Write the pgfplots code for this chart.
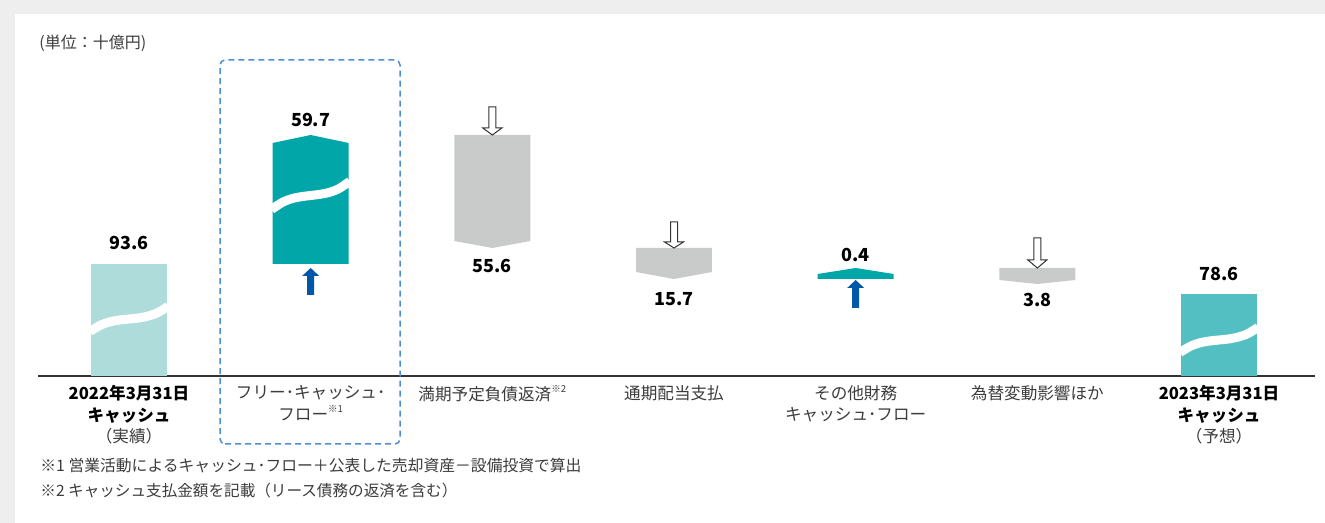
\documentclass[border=0pt]{standalone}
\usepackage{fontspec}
\setmainfont{Noto Sans CJK JP}
\usepackage{pgfplots}
\pgfplotsset{compat=1.18}
\usetikzlibrary{backgrounds}
\definecolor{bggray}{HTML}{EEEEEE}
\definecolor{cbarA}{HTML}{ADDCDB}
\definecolor{cteal}{HTML}{00A6A8}
\definecolor{cbarB}{HTML}{53BFC3}
\definecolor{cgrey}{HTML}{C9CACA}
\definecolor{cblue}{HTML}{0057A8}
\definecolor{cdash}{HTML}{4C8FD6}
\definecolor{labgray}{HTML}{3C3C3C}
\definecolor{axisgray}{HTML}{333333}
\newcommand{\notemark}[1]{\raisebox{0.45em}{\fontsize{4.8}{5}\selectfont #1}}
\begin{document}
\begin{tikzpicture}
\begin{axis}[
  scale only axis, width=638.5pt, height=181pt,
  xmin=-0.5009, xmax=6.5283, ymin=0, ymax=362,
  axis x line=bottom, axis y line=none,
  axis line style={-, draw=axisgray, line width=0.7pt},
  xtick={0,1,2,3,4,5,6}, major tick length=0pt,
  xticklabels={
    {\textcolor{black}{\textbf{2022年3月31日}}\\\textcolor{black}{\textbf{キャッシュ}}\\（実績）},
    {フリー･キャッシュ･\\フロー\notemark{※1}},
    {満期予定負債返済\notemark{※2}},
    {通期配当支払},
    {その他財務\\キャッシュ･フロー},
    {為替変動影響ほか},
    {\textcolor{black}{\textbf{2023年3月31日}}\\\textcolor{black}{\textbf{キャッシュ}}\\（予想）}
  },
  xticklabel style={align=center, font=\fontsize{8.3}{10.75}\selectfont, text=labgray, anchor=north, yshift=-1.2pt},
  ytick=\empty,
  clip=false,
]
% background extents
\coordinate (bgA) at (axis cs:-0.7101,-147);
\coordinate (bgB) at (axis cs:6.5834,376);
\coordinate (wA) at (axis cs:-0.6275,-147);
\coordinate (wB) at (axis cs:6.5834,362);

% dashed highlight box
\addplot[draw=cdash, line width=0.75pt, dash pattern=on 3pt off 2pt, rounded corners=2.5pt] coordinates {(0.501,-68) (1.4917,-68) (1.4917,316) (0.501,316)} -- cycle;

% bars (display heights, axis is broken)
\addplot[fill=cbarA, draw=none] coordinates {(-0.209,0) (0.209,0) (0.209,112) (-0.209,112)} -- cycle;
\addplot[fill=cteal, draw=none] coordinates {(0.791,112) (1.209,112) (1.209,233) (1,241) (0.791,233)} -- cycle;
\addplot[fill=cgrey, draw=none] coordinates {(1.791,241) (2.209,241) (2.209,135) (2,128) (1.791,135)} -- cycle;
\addplot[fill=cgrey, draw=none] coordinates {(2.791,128) (3.209,128) (3.209,104) (3,97) (2.791,104)} -- cycle;
\addplot[fill=cteal, draw=none] coordinates {(3.791,97) (4.209,97) (4.209,102) (4,108) (3.791,102)} -- cycle;
\addplot[fill=cgrey, draw=none] coordinates {(4.791,108) (5.209,108) (5.209,96) (5,92) (4.791,96)} -- cycle;
\addplot[fill=cbarB, draw=none] coordinates {(5.791,0) (6.209,0) (6.209,82) (5.791,82)} -- cycle;

% wave breaks
\addplot[white, line width=4.5pt, smooth] coordinates {(-0.215,44.6) (-0.157,50.8) (-0.1045,54.2) (-0.052,56.0) (0,57) (0.052,58.0) (0.1045,59.9) (0.157,63.2) (0.215,69.6)};
\addplot[white, line width=4.5pt, smooth] coordinates {(0.785,166.6) (0.843,173.5) (0.8955,177.3) (0.948,179.3) (1,180.5) (1.052,181.7) (1.1045,183.7) (1.157,187.5) (1.215,194.6)};
\addplot[white, line width=4.5pt, smooth] coordinates {(5.785,23.6) (5.843,29.8) (5.8955,33.2) (5.948,35.0) (6,36) (6.052,37.0) (6.1045,38.9) (6.157,42.2) (6.215,48.6)};

% hollow (outflow) arrows
\addplot[fill=white, draw=axisgray, line width=0.5pt] coordinates {(1.9807,269) (2.0193,269) (2.0193,248) (2.0523,248) (2,241) (1.9477,248) (1.9807,248)} -- cycle;
\addplot[fill=white, draw=axisgray, line width=0.5pt] coordinates {(2.9807,154) (3.0193,154) (3.0193,134) (3.0523,134) (3,128) (2.9477,134) (2.9807,134)} -- cycle;
\addplot[fill=white, draw=axisgray, line width=0.5pt] coordinates {(4.9807,138) (5.0193,138) (5.0193,116) (5.0523,116) (5,108) (4.9477,116) (4.9807,116)} -- cycle;

% blue (inflow) arrows
\addplot[fill=cblue, draw=none] coordinates {(0.9807,81) (1.0193,81) (1.0193,100) (1.0468,100) (1,108) (0.9532,100) (0.9807,100)} -- cycle;
\addplot[fill=cblue, draw=none] coordinates {(3.9807,68) (4.0193,68) (4.0193,88) (4.0468,88) (4,96) (3.9532,88) (3.9807,88)} -- cycle;

% value labels
\addplot[draw=none, only marks, mark=text, text mark={},
  nodes near coords, point meta=explicit symbolic,
  nodes near coords style={anchor=center, font=\fontsize{9}{9}\selectfont\bfseries, text=black}]
  coordinates {(0,133)[93.6] (1,256)[59.7] (2,110)[55.6] (3,77)[15.7] (4,121)[0.4] (5,76)[3.8] (6,102)[78.6]};

% unit and footnotes
\node[anchor=west, font=\fontsize{8}{9}\selectfont, text=labgray, inner sep=0pt] at (axis cs:-0.4954,333) {(単位：十億円)};
\node[anchor=west, font=\fontsize{7.9}{9}\selectfont, text=labgray, inner sep=0pt] at (axis cs:-0.4899,-90) {※1 営業活動によるキャッシュ･フロー＋公表した売却資産－設備投資で算出};
\node[anchor=west, font=\fontsize{7.8}{9}\selectfont, text=labgray, inner sep=0pt] at (axis cs:-0.4899,-115) {※2 キャッシュ支払金額を記載（リース債務の返済を含む）};
\end{axis}
\begin{scope}[on background layer]
\fill[bggray] (bgA) rectangle (bgB);
\fill[white] (wA) rectangle (wB);
\end{scope}
\pgfresetboundingbox
\path[use as bounding box] (bgA) rectangle (bgB);
\end{tikzpicture}
\end{document}
